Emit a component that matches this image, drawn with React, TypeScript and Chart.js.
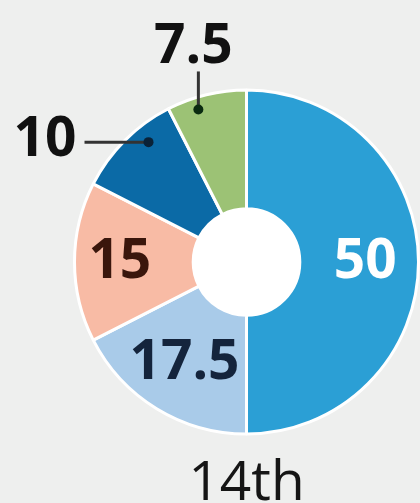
import React, { useEffect, useRef } from "react";
import { Chart, registerables } from "chart.js";

Chart.register(...registerables);

const categories = ["A", "B", "C", "D", "E"];
const values = [50, 17.5, 15, 10, 7.5];
const valueLabels = ["50", "17.5", "15", "10", "7.5"];
const colors = ["#2b9fd5", "#a9cbe9", "#f8bba5", "#0b6aa6", "#9cc275"];
const labelColors = ["#ffffff", "#14243c", "#3a160c", "#111111", "#111111"];
const title = "14th";

const FONT = "'Open Sans', 'DejaVu Sans', sans-serif";
const radialOffsets = [6, 6, 14];

const labelPlugin = {
  id: "labelPlugin",
  beforeDatasetsDraw(chart: any) {
    const meta = chart.getDatasetMeta(0);
    const a = meta.data[0];
    if (!a) return;
    const ctx = chart.ctx;
    ctx.save();
    ctx.fillStyle = "#ffffff";
    ctx.beginPath();
    ctx.arc(a.x, a.y, a.innerRadius + 1, 0, Math.PI * 2);
    ctx.fill();
    ctx.restore();
  },
  afterDatasetsDraw(chart: any) {
    const ctx = chart.ctx;
    const meta = chart.getDatasetMeta(0);
    ctx.save();
    meta.data.forEach((arc: any, i: number) => {
      const p = arc.getProps(["x", "y", "startAngle", "endAngle", "innerRadius", "outerRadius"], true);
      const cx = p.x, cy = p.y;
      const mid = (p.startAngle + p.endAngle) / 2;
      ctx.font = `bold 55px ${FONT}`;
      ctx.fillStyle = labelColors[i];
      ctx.textAlign = "center";
      ctx.textBaseline = "middle";
      if (i <= 2) {
        const r = (p.innerRadius + p.outerRadius) / 2 + radialOffsets[i];
        ctx.fillText(valueLabels[i], cx + Math.cos(mid) * r, cy + Math.sin(mid) * r);
      } else if (i === 3) {
        const a = mid + 0.1;
        const r = p.outerRadius * 0.9;
        const dx = cx + Math.cos(a) * r;
        const dy = cy + Math.sin(a) * r;
        ctx.strokeStyle = "#333333";
        ctx.lineWidth = 3;
        ctx.beginPath();
        ctx.moveTo(dx, dy);
        ctx.lineTo(dx - 64, dy);
        ctx.stroke();
        ctx.beginPath();
        ctx.fillStyle = "#0a2238";
        ctx.arc(dx, dy, 5, 0, Math.PI * 2);
        ctx.fill();
        ctx.fillStyle = labelColors[i];
        ctx.textAlign = "right";
        ctx.fillText(valueLabels[i], dx - 72, dy - 2);
      } else {
        const a = mid - 0.07;
        const r = p.outerRadius * 0.93;
        const dx = cx + Math.cos(a) * r;
        const dy = cy + Math.sin(a) * r;
        ctx.strokeStyle = "#333333";
        ctx.lineWidth = 3;
        ctx.beginPath();
        ctx.moveTo(dx, dy);
        ctx.lineTo(dx, dy - 38);
        ctx.stroke();
        ctx.beginPath();
        ctx.fillStyle = "#0a2a10";
        ctx.arc(dx, dy, 5, 0, Math.PI * 2);
        ctx.fill();
        ctx.fillStyle = labelColors[i];
        ctx.textAlign = "center";
        ctx.textBaseline = "alphabetic";
        ctx.fillText(valueLabels[i], dx - 5, dy - 46);
      }
    });
    const first = meta.data[0];
    ctx.font = `55px ${FONT}`;
    ctx.fillStyle = "#151515";
    ctx.textAlign = "center";
    ctx.textBaseline = "alphabetic";
    ctx.fillText(title, first.x, 500);
    ctx.restore();
  },
};

export default function App() {
  const ref = useRef<HTMLCanvasElement>(null);
  useEffect(() => {
    document.body.style.margin = "0";
    const chart = new Chart(ref.current!, {
      type: "doughnut",
      data: {
        labels: categories,
        datasets: [
          {
            data: values,
            backgroundColor: colors,
            borderColor: "#ffffff",
            borderWidth: 3,
          },
        ],
      },
      options: {
        responsive: false,
        animation: false,
        cutout: "31%",
        events: [],
        layout: { padding: { left: 73, right: 0, top: 88, bottom: 67 } },
        plugins: {
          legend: { display: false },
          tooltip: { enabled: false },
        },
      },
      plugins: [labelPlugin],
    });
    return () => chart.destroy();
  }, []);
  return (
    <div style={{ position: "absolute", left: 0, top: 0, width: 420, height: 503, background: "#eeefee" }}>
      <canvas ref={ref} width={420} height={503} style={{ width: 420, height: 503, display: "block" }} />
    </div>
  );
}
